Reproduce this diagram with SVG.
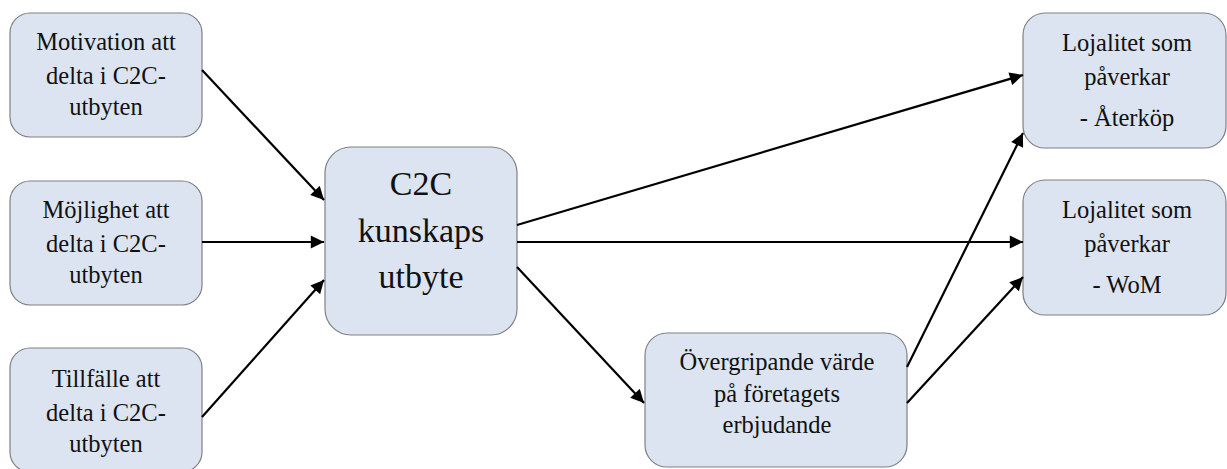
<svg xmlns="http://www.w3.org/2000/svg" width="1227" height="469" viewBox="0 0 1227 469">
  <style>
    .box { fill: #dbe4f0; stroke: #808080; stroke-width: 1.2; }
    text { font-family: 'Liberation Serif', Tinos, 'DejaVu Serif', serif; font-size: 24.5px; fill: #111; text-anchor: middle; }
    .big { font-size: 34px; }
    .edge { stroke: #000; stroke-width: 2.2; fill: none; marker-end: url(#arrow); }
  </style>
  <defs>
    <marker id="arrow" viewBox="0 0 10 10" refX="10" refY="5" markerWidth="7" markerHeight="6" markerUnits="strokeWidth" orient="auto">
      <path d="M0,0 L10,5 L0,10 Z" fill="#000"/>
    </marker>
  </defs>

  <g id="motivation">
    <rect class="box" x="10" y="13" width="192" height="124" rx="20"/>
    <text x="106" y="50">Motivation att</text>
    <text x="106" y="84">delta i C2C-</text>
    <text x="106" y="115">utbyten</text>
  </g>

  <g id="mojlighet">
    <rect class="box" x="10" y="181" width="192" height="124" rx="20"/>
    <text x="106" y="218">Möjlighet att</text>
    <text x="106" y="252">delta i C2C-</text>
    <text x="106" y="283">utbyten</text>
  </g>

  <g id="tillfalle">
    <rect class="box" x="10" y="348" width="192" height="124" rx="20"/>
    <text x="106" y="387">Tillfälle att</text>
    <text x="106" y="421">delta i C2C-</text>
    <text x="106" y="452">utbyten</text>
  </g>

  <g id="kunskapsutbyte">
    <rect class="box" x="325" y="147" width="192" height="188" rx="26"/>
    <text class="big" x="421" y="195">C2C</text>
    <text class="big" x="421" y="242">kunskaps</text>
    <text class="big" x="421" y="288">utbyte</text>
  </g>

  <g id="overgripande">
    <rect class="box" x="645" y="333" width="262" height="134" rx="22"/>
    <text x="777" y="370">Övergripande värde</text>
    <text x="777" y="402">på företagets</text>
    <text x="777" y="433">erbjudande</text>
  </g>

  <g id="aterkop">
    <rect class="box" x="1023" y="13" width="203" height="135" rx="22"/>
    <text x="1127" y="51">Lojalitet som</text>
    <text x="1127" y="85">påverkar</text>
    <text x="1127" y="126">- Återköp</text>
  </g>

  <g id="wom">
    <rect class="box" x="1023" y="180" width="203" height="135" rx="22"/>
    <text x="1127" y="218">Lojalitet som</text>
    <text x="1127" y="252">påverkar</text>
    <text x="1127" y="293">- WoM</text>
  </g>

  <g id="connectors">
    <line class="edge" x1="202" y1="70" x2="324" y2="200"/>
    <line class="edge" x1="202" y1="242" x2="324" y2="242"/>
    <line class="edge" x1="202" y1="417" x2="324" y2="280"/>
    <line class="edge" x1="517" y1="225" x2="1023" y2="75"/>
    <line class="edge" x1="517" y1="242" x2="1023" y2="242"/>
    <line class="edge" x1="517" y1="267" x2="644" y2="403"/>
    <line class="edge" x1="907" y1="367" x2="1023" y2="133"/>
    <line class="edge" x1="907" y1="403" x2="1023" y2="277"/>
  </g>
</svg>
